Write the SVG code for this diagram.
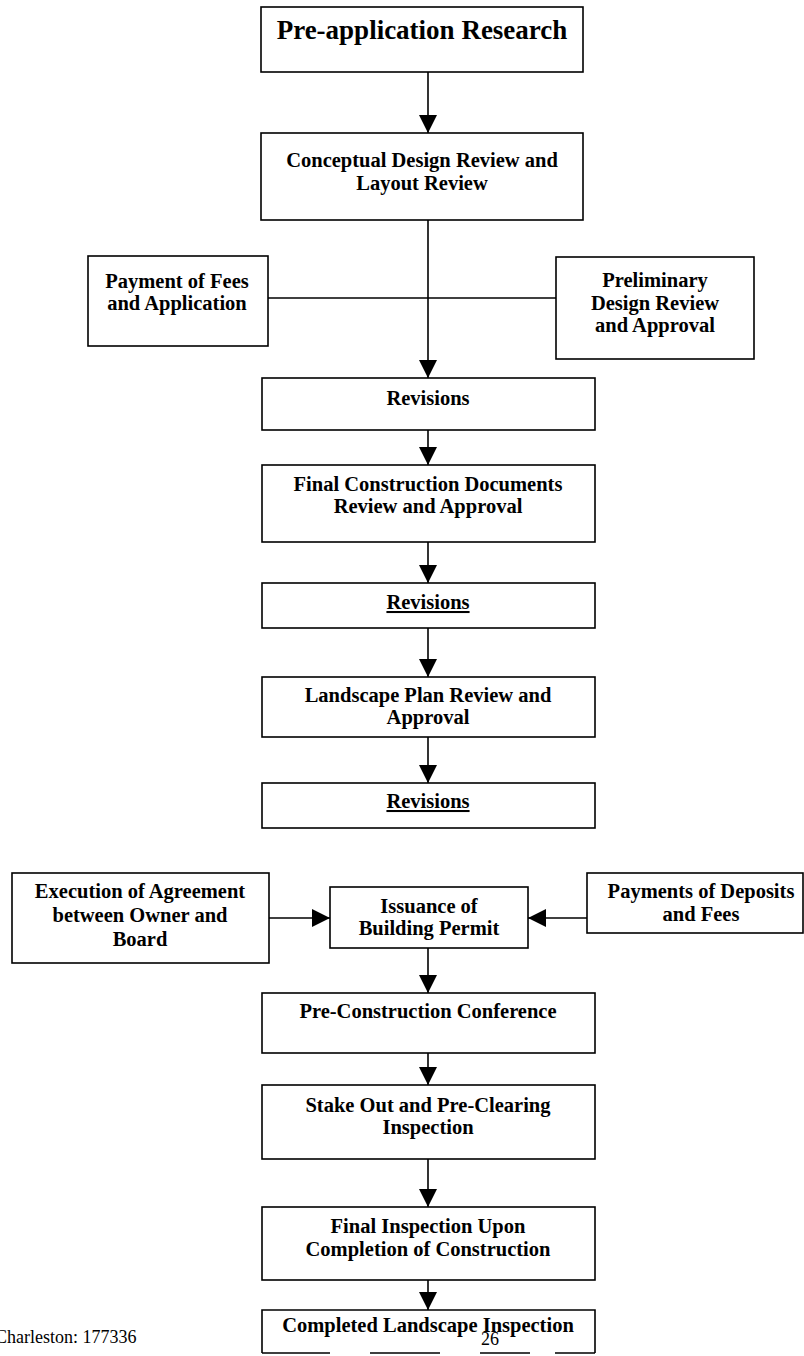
<svg xmlns="http://www.w3.org/2000/svg" width="804" height="1356" viewBox="0 0 804 1356">
<style>
.box{fill:#fff;stroke:#000;stroke-width:1.6}
.t{font-family:"Liberation Serif","Times New Roman",serif;font-weight:bold;font-size:20.5px;fill:#000;text-anchor:middle}
.title{font-size:27px}
.c{stroke:#000;stroke-width:1.6;fill:none}
.r{font-family:"Liberation Serif","Times New Roman",serif;font-size:18px;fill:#000}
</style>
<defs>
<marker id="ah" markerUnits="userSpaceOnUse" markerWidth="18" markerHeight="18" refX="18" refY="9" orient="auto">
<path d="M0,0 L18,9 L0,18 z" fill="#000"/>
</marker>
</defs>
<rect width="804" height="1356" fill="#fff"/>
<g id="connectors">
<line class="c" x1="428" y1="72" x2="428" y2="133" marker-end="url(#ah)"/>
<line class="c" x1="428" y1="220" x2="428" y2="378" marker-end="url(#ah)"/>
<line class="c" x1="268" y1="298" x2="556" y2="298"/>
<line class="c" x1="428" y1="430" x2="428" y2="465" marker-end="url(#ah)"/>
<line class="c" x1="428" y1="542" x2="428" y2="583" marker-end="url(#ah)"/>
<line class="c" x1="428" y1="628" x2="428" y2="677" marker-end="url(#ah)"/>
<line class="c" x1="428" y1="737" x2="428" y2="783" marker-end="url(#ah)"/>
<line class="c" x1="269" y1="918" x2="330" y2="918" marker-end="url(#ah)"/>
<line class="c" x1="587" y1="918" x2="528" y2="918" marker-end="url(#ah)"/>
<line class="c" x1="428" y1="948" x2="428" y2="993" marker-end="url(#ah)"/>
<line class="c" x1="428" y1="1053" x2="428" y2="1085" marker-end="url(#ah)"/>
<line class="c" x1="428" y1="1159" x2="428" y2="1207" marker-end="url(#ah)"/>
<line class="c" x1="428" y1="1280" x2="428" y2="1310" marker-end="url(#ah)"/>
</g>
<g id="n1"><rect class="box" x="261" y="7" width="322" height="65"/><text class="t title" x="422" y="39">Pre-application Research</text></g>
<g id="n2"><rect class="box" x="261" y="133" width="322" height="87"/><text class="t" x="422" y="167">Conceptual Design Review and</text><text class="t" x="422" y="190">Layout Review</text></g>
<g id="n3"><rect class="box" x="88" y="256" width="180" height="90"/><text class="t" x="177" y="288">Payment of Fees</text><text class="t" x="177" y="310">and Application</text></g>
<g id="n4"><rect class="box" x="556" y="257" width="198" height="102"/><text class="t" x="655" y="287">Preliminary</text><text class="t" x="655" y="310">Design Review</text><text class="t" x="655" y="332">and Approval</text></g>
<g id="n5"><rect class="box" x="262" y="378" width="333" height="52"/><text class="t" x="428" y="405">Revisions</text></g>
<g id="n6"><rect class="box" x="262" y="465" width="333" height="77"/><text class="t" x="428" y="491">Final Construction Documents</text><text class="t" x="428" y="513">Review and Approval</text></g>
<g id="n7"><rect class="box" x="262" y="583" width="333" height="45"/><text class="t" x="428" y="609" text-decoration="underline">Revisions</text></g>
<g id="n8"><rect class="box" x="262" y="677" width="333" height="60"/><text class="t" x="428" y="702">Landscape Plan Review and</text><text class="t" x="428" y="724">Approval</text></g>
<g id="n9"><rect class="box" x="262" y="783" width="333" height="45"/><text class="t" x="428" y="808" text-decoration="underline">Revisions</text></g>
<g id="n10"><rect class="box" x="12" y="873" width="257" height="90"/><text class="t" x="140" y="898">Execution of Agreement</text><text class="t" x="140" y="922">between Owner and</text><text class="t" x="140" y="946">Board</text></g>
<g id="n11"><rect class="box" x="330" y="887" width="198" height="61"/><text class="t" x="429" y="913">Issuance of</text><text class="t" x="429" y="935">Building Permit</text></g>
<g id="n12"><rect class="box" x="587" y="873" width="216" height="60"/><text class="t" x="701" y="898">Payments of Deposits</text><text class="t" x="701" y="921">and Fees</text></g>
<g id="n13"><rect class="box" x="262" y="993" width="333" height="60"/><text class="t" x="428" y="1018">Pre-Construction Conference</text></g>
<g id="n14"><rect class="box" x="262" y="1085" width="333" height="74"/><text class="t" x="428" y="1112">Stake Out and Pre-Clearing</text><text class="t" x="428" y="1134">Inspection</text></g>
<g id="n15"><rect class="box" x="262" y="1207" width="333" height="73"/><text class="t" x="428" y="1233">Final Inspection Upon</text><text class="t" x="428" y="1256">Completion of Construction</text></g>
<g id="n16"><path class="c" d="M262,1353 V1310 H595 V1353"/><path class="c" d="M262,1353 H330 M370,1353 H440 M480,1353 H530 M555,1353 H595"/><text class="t" x="428" y="1332">Completed Landscape Inspection</text></g>
<text class="r" x="490" y="1345" text-anchor="middle">26</text>
<text class="r" x="-5" y="1343" font-size="14">Charleston: 177336</text>
</svg>
